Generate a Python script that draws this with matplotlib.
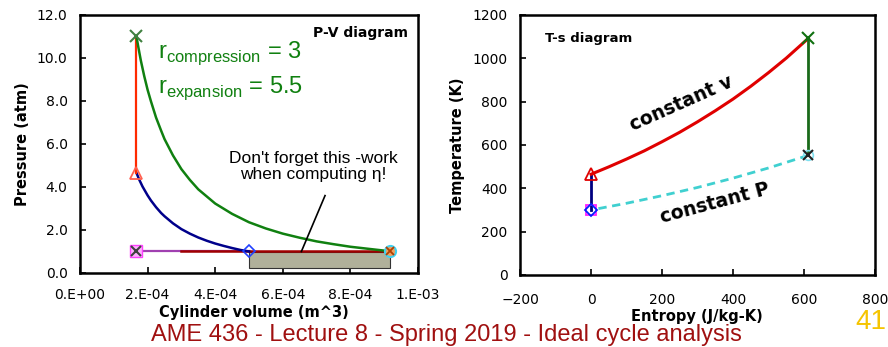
import matplotlib.pyplot as plt
from matplotlib.patches import Rectangle

plt.rcParams['font.family'] = ['DejaVu Sans']
plt.rcParams['mathtext.fontset'] = 'custom'
plt.rcParams['mathtext.rm'] = 'Liberation Sans'

# ── Cycle states (P-V) ─────────────────────────────────────────────────────────
V_small = 1.67e-4      # TDC volume
V_bdc_c = 5.0e-4       # end of intake / start of compression
V_exp = 9.17e-4        # end of expansion
P_atm = 1.0
P_2 = 4.66
P_3 = 11.0

# compression curve (2 <- 1)
V_comp = [5.0e-4, 4.75e-4, 4.5e-4, 4.25e-4, 4.0e-4, 3.75e-4, 3.5e-4, 3.25e-4,
          3.0e-4, 2.75e-4, 2.5e-4, 2.4e-4, 2.25e-4, 2.1e-4, 2.0e-4, 1.85e-4,
          1.75e-4, 1.67e-4]
P_comp = [1.00, 1.07, 1.16, 1.26, 1.37, 1.50, 1.65, 1.83, 2.04, 2.31, 2.64,
          2.79, 3.06, 3.37, 3.61, 4.02, 4.35, 4.66]

# expansion curve (3 -> 4)
V_expn = [1.67e-4, 1.7e-4, 1.75e-4, 1.8e-4, 1.9e-4, 2.0e-4, 2.1e-4, 2.25e-4,
          2.4e-4, 2.5e-4, 2.75e-4, 3.0e-4, 3.25e-4, 3.5e-4, 4.0e-4, 4.5e-4,
          5.0e-4, 5.5e-4, 6.0e-4, 6.5e-4, 7.0e-4, 7.5e-4, 8.0e-4, 8.5e-4,
          9.17e-4]
P_expn = [11.0, 10.73, 10.30, 9.88, 9.16, 8.52, 7.98, 7.23, 6.62, 6.23, 5.47,
          4.83, 4.33, 3.89, 3.23, 2.75, 2.36, 2.07, 1.83, 1.64, 1.47, 1.34,
          1.22, 1.13, 1.01]

V_ticks = [0, 2e-4, 4e-4, 6e-4, 8e-4, 1e-3]
V_tick_labels = ["0.E+00", "2.E-04", "4.E-04", "6.E-04", "8.E-04", "1.E-03"]
P_ticks = [0, 2, 4, 6, 8, 10, 12]

# ── Cycle states (T-s) ─────────────────────────────────────────────────────────
s_const_v = [0, 50, 100, 150, 200, 250, 300, 350, 400, 450, 500, 550, 612]
T_const_v = [465, 499, 535, 573, 615, 659, 707, 758, 812, 871, 934, 1001, 1092]
s_const_p = [612, 500, 400, 300, 200, 100, 0]
T_const_p = [552, 494, 447, 404, 366, 331, 300]
T_1 = 300
T_2 = 465
T_3 = 1092
T_4 = 552
s_max = 612

s_ticks = [-200, 0, 200, 400, 600, 800]
T_ticks = [0, 200, 400, 600, 800, 1000, 1200]

fig = plt.figure(figsize=(8.88, 3.47), dpi=100)
ax1 = fig.add_axes([0.0901, 0.2133, 0.3806, 0.7435])
ax2 = fig.add_axes([0.5856, 0.2075, 0.3998, 0.7493])

for ax in (ax1, ax2):
    for sp in ax.spines.values():
        sp.set_linewidth(1.8)
    ax.tick_params(direction="in", length=4, width=1.2, labelsize=10)
    ax.tick_params(axis="y", pad=9)
ax1.tick_params(axis="x", pad=11)
ax2.tick_params(axis="x", pad=13)

# ── P-V diagram ────────────────────────────────────────────────────────────────
ax1.add_patch(Rectangle((V_bdc_c, 0.22), V_exp - V_bdc_c, P_atm - 0.26,
                        facecolor="#b0b09a", edgecolor="#333333", lw=0.8,
                        zorder=2))
ax1.plot([V_small, V_bdc_c], [P_atm, P_atm], color="#a040b0", lw=1.6, zorder=3)
ax1.plot([V_exp, 3.0e-4], [P_atm, P_atm], color="#a00000", lw=1.8, zorder=3)
ax1.plot(V_comp, P_comp, color="#00008b", lw=1.8, zorder=3)
ax1.plot([V_small, V_small], [P_2, P_3], color="#ff2a00", lw=1.6, zorder=3)
ax1.plot(V_expn, P_expn, color="#108010", lw=1.8, zorder=3)

ax1.plot(V_small, P_atm, "s", ms=8, mfc="#ffb0ff", mec="#ff40ff", zorder=4)
ax1.plot(V_small, P_atm, "x", ms=7, mew=1.5, color="#404040", zorder=5)
ax1.plot(V_bdc_c, P_atm, "D", ms=6, mfc="none", mec="#2040ff", mew=1.2, zorder=4)
ax1.plot(V_small, P_2, "^", ms=8, mfc="none", mec="#ff6050", mew=1.3, zorder=4)
ax1.plot(V_small, P_3, "x", ms=8, mew=1.5, color="#408040", zorder=4)
ax1.plot(V_exp, P_atm, "o", ms=8, mfc="#f0a060", mec="#40d0f0", mew=1.5, zorder=4)
ax1.plot(V_exp, P_atm, "x", ms=6, mew=1.3, color="#b04000", zorder=5)

ax1.set_xlim(0, 1e-3)
ax1.set_ylim(0, 12)
ax1.set_xticks(V_ticks)
ax1.set_xticklabels(V_tick_labels)
ax1.set_yticks(P_ticks)
ax1.set_yticklabels([f"{p:.1f}" for p in P_ticks])
ax1.set_ylabel("Pressure (atm)", fontweight="bold", fontsize=10.5, labelpad=5)

ax1.text(0.97, 0.93, "P-V diagram", transform=ax1.transAxes, ha="right",
         va="center", fontweight="bold", fontsize=10)
ax1.text(2.3e-4, 10.23, r"r$_{\mathrm{compression}}$ = 3", color="#108010",
         fontsize=17, family="Liberation Sans", va="center")
ax1.text(2.3e-4, 8.6, r"r$_{\mathrm{expansion}}$ = 5.5", color="#108010",
         fontsize=17, family="Liberation Sans", va="center")
ax1.text(6.9e-4, 4.95, "Don't forget this -work\nwhen computing η!",
         ha="center", va="center", fontsize=12.5, family="Liberation Sans",
         linespacing=1.05)
ax1.plot([6.55e-4, 7.25e-4], [1.0, 3.6], color="black", lw=1.2, zorder=3)

# ── T-s diagram ────────────────────────────────────────────────────────────────
ax2.plot(s_const_p, T_const_p, color="#40d0d0", lw=2, ls=(0, (3, 2)), zorder=3)
ax2.plot([0, 0], [T_1, T_2], color="#000080", lw=2, zorder=3)
ax2.plot(s_const_v, T_const_v, color="#e00000", lw=2.2, zorder=3)
ax2.plot([s_max, s_max], [T_3, T_4], color="#1a6a1a", lw=2, zorder=3)

ax2.plot(0, T_1, "s", ms=7, mfc="none", mec="#ff20ff", mew=1.3, zorder=4)
ax2.plot(0, T_1, "D", ms=6, mfc="none", mec="#0020ff", mew=1.3, zorder=4)
ax2.plot(0, T_2, "^", ms=8, mfc="none", mec="#e00000", mew=1.3, zorder=4)
ax2.plot(s_max, T_3, "x", ms=8, mew=1.5, color="#107010", zorder=4)
ax2.plot(s_max, T_4, "o", ms=7, mfc="none", mec="#80e0f0", mew=1.2, zorder=4)
ax2.plot(s_max, T_4, "x", ms=7, mew=1.5, color="#202020", zorder=5)

ax2.set_xlim(-200, 800)
ax2.set_ylim(0, 1200)
ax2.set_xticks(s_ticks)
ax2.set_yticks(T_ticks)
ax2.set_ylabel("Temperature (K)", fontweight="bold", fontsize=10.5, labelpad=5)

ax2.text(0.07, 0.91, "T-s diagram", transform=ax2.transAxes, ha="left",
         va="center", fontweight="bold", fontsize=9.5)
ax2.text(255, 790, "constant v", rotation=24, ha="center", va="center",
         fontweight="bold", fontsize=13.5)
ax2.text(350, 330, "constant P", rotation=15, ha="center", va="center",
         fontweight="bold", fontsize=13.5)

# ── x labels and footer ────────────────────────────────────────────────────────
fig.text(254 / 888, 1 - 313 / 347, "Cylinder volume (m^3)", ha="center",
         va="center", fontweight="bold", fontsize=10.5)
fig.text(697 / 888, 1 - 316 / 347, "Entropy (J/kg-K)", ha="center",
         va="center", fontweight="bold", fontsize=10.5)
fig.text(446 / 888, 1 - 335.5 / 347,
         "AME 436 - Lecture 8 - Spring 2019 - Ideal cycle analysis",
         ha="center", va="center", color="#a01010", fontsize=17,
         family="Liberation Sans")
fig.text(855 / 888, 1 - 322 / 347, "41", ha="left", va="center",
         color="#f5c400", fontsize=20, family="Liberation Sans")

plt.savefig("out.png", dpi=100)
